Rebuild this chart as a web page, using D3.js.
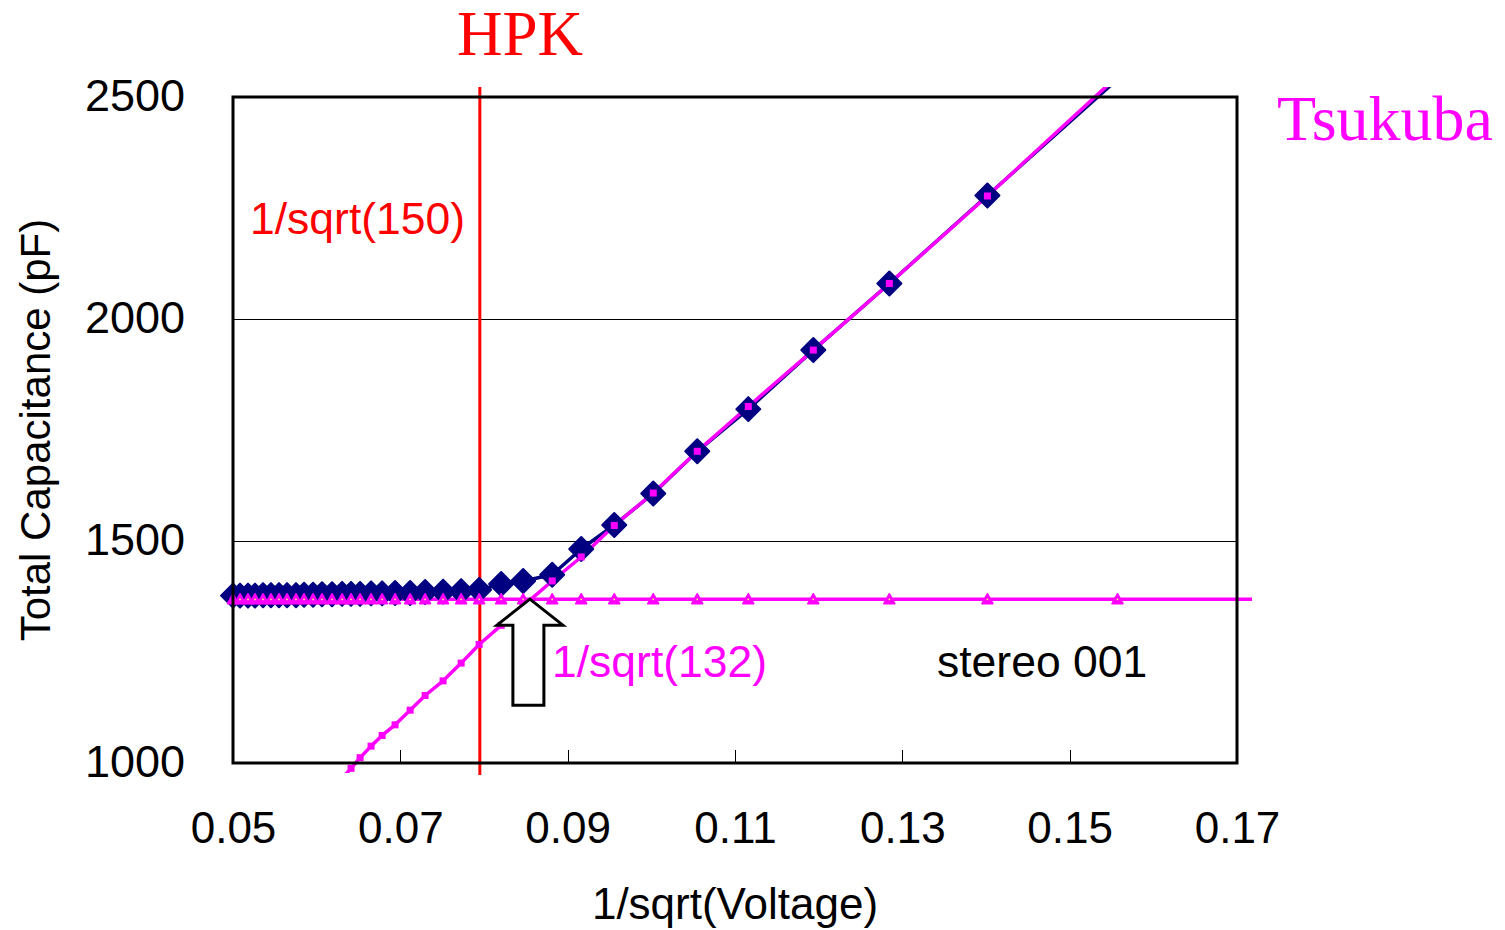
<!DOCTYPE html>
<html>
<head>
<meta charset="utf-8">
<script src="https://cdn.jsdelivr.net/npm/d3@7"></script>
<style>
  html, body { margin: 0; padding: 0; background: #fff; }
  svg { display: block; }
  text { font-family: "Liberation Sans", Arial, sans-serif; }
</style>
</head>
<body>
<svg id="chart" width="1505" height="930"></svg>
<script>
// ---- data ----
const xValues = [0.0500, 0.05084, 0.05179, 0.05263, 0.05359, 0.05454, 0.05550, 0.05646, 0.05753, 0.05849,
                 0.05957, 0.06064, 0.06184, 0.06304, 0.06411, 0.06519, 0.06650, 0.06782, 0.06937, 0.07117,
                 0.07296, 0.07511, 0.07727, 0.07942, 0.08205, 0.08468, 0.08815, 0.09162, 0.09557, 0.10023,
                 0.10549, 0.11159, 0.11936, 0.12845, 0.14017, 0.15572];
const hpkValues = [1377, 1377, 1377, 1377, 1378, 1378, 1378, 1378, 1378, 1379,
                   1379, 1380, 1380, 1381, 1381, 1381, 1382, 1382, 1383, 1383,
                   1385, 1386, 1387, 1390, 1403, 1410, 1424, 1482, 1536, 1607,
                   1702, 1797, 1930, 2080, 2278, 2540];
const tsukubaRise = [null, null, null, null, null, null, null, null, null, null,
                     null, null, 944, 966, 988, 1012, 1038, 1062, 1086, 1119,
                     1152, 1185, 1225, 1267, 1310, 1354, 1410, 1464, 1535, 1608,
                     1702, 1803, 1930, 2080, 2277, 2547];
const tsukubaFlat = [1369, 1369, 1369, 1369, 1369, 1369, 1369, 1369, 1369, 1369,
                     1369, 1369, 1369, 1369, 1369, 1369, 1369, 1369, 1369, 1369,
                     1369, 1369, 1369, 1369, 1369, 1369, 1369, 1369, 1369, 1369,
                     1369, 1369, 1369, 1369, 1369, 1369];
const plateauLevel = 1369;
const hpkMarkerX = 0.0795;
const crossingX = 0.08704;
const xTicks = [0.05, 0.07, 0.09, 0.11, 0.13, 0.15, 0.17];
const xTickLabels = ["0.05", "0.07", "0.09", "0.11", "0.13", "0.15", "0.17"];
const yTicks = [1000, 1500, 2000, 2500];
const yGrid = [1500, 2000];

// ---- layout ----
const svg = d3.select("#chart");
const L = 233, R = 1237, T = 97, B = 763;
const x = d3.scaleLinear().domain([0.05, 0.17]).range([L, R]);
const y = d3.scaleLinear().domain([1000, 2500]).range([B, T]);
const NAVY = "#000080", MAG = "#ff00ff", RED = "#ff0000";

const defs = svg.append("defs");
defs.append("clipPath").attr("id", "clip")
  .append("rect").attr("x", L - 10).attr("y", T - 10).attr("width", R - L + 20).attr("height", B - T + 20);

// gridlines
svg.append("g").selectAll("line").data(yGrid).join("line")
  .attr("x1", L).attr("x2", R)
  .attr("y1", d => Math.round(y(d)) + 0.5).attr("y2", d => Math.round(y(d)) + 0.5)
  .attr("stroke", "#000").attr("stroke-width", 1).attr("shape-rendering", "crispEdges");

// x axis (ticks inside)
const xAxis = d3.axisBottom(x).tickValues(xTicks).tickFormat((d, i) => xTickLabels[i]).tickSize(-13).tickPadding(0);
const gx = svg.append("g").attr("transform", `translate(0,${B})`).call(xAxis);
gx.select(".domain").remove();
gx.selectAll(".tick line").attr("stroke", "#000").attr("stroke-width", 1).attr("shape-rendering", "crispEdges");
gx.selectAll(".tick text").attr("y", 80).attr("dy", 0)
  .attr("font-size", 44).attr("fill", "#000")
  .style("font-family", "'Liberation Sans', Arial, sans-serif");

// y axis
const yAxis = d3.axisLeft(y).tickValues(yTicks).tickFormat(d3.format("d")).tickSize(0).tickPadding(0);
const gy = svg.append("g").attr("transform", `translate(${L},0)`).call(yAxis);
gy.select(".domain").remove();
gy.selectAll(".tick text").attr("x", -48).attr("dy", "0.3em")
  .attr("font-size", 45).attr("fill", "#000")
  .style("font-family", "'Liberation Sans', Arial, sans-serif");

// series lines
const pts = (vals) => xValues.map((xv, i) => ({x: xv, y: vals[i]}));
const line = d3.line().defined(d => d.y != null).x(d => x(d.x)).y(d => y(d.y));
const lines = svg.append("g").attr("clip-path", "url(#clip)");
lines.append("path").datum(pts(hpkValues)).attr("d", line)
  .attr("fill", "none").attr("stroke", NAVY).attr("stroke-width", 3.5).attr("stroke-linejoin", "round");
lines.append("path").datum(pts(tsukubaRise)).attr("d", line)
  .attr("fill", "none").attr("stroke", MAG).attr("stroke-width", 3.5).attr("stroke-linejoin", "round");

// horizontal plateau line
svg.append("line")
  .attr("x1", L - 8).attr("x2", R + 15)
  .attr("y1", y(plateauLevel)).attr("y2", y(plateauLevel))
  .attr("stroke", MAG).attr("stroke-width", 3.5);

// red vertical line
svg.append("line")
  .attr("x1", x(hpkMarkerX)).attr("x2", x(hpkMarkerX))
  .attr("y1", T - 10).attr("y2", B + 12)
  .attr("stroke", RED).attr("stroke-width", 3);

// diamonds
const ds = 12;
svg.append("g").selectAll("path").data(pts(hpkValues).filter(d => y(d.y) > T - 5)).join("path")
  .attr("d", d => {
    const cx = x(d.x), cy = y(d.y);
    return `M${cx},${cy - ds}L${cx + ds},${cy}L${cx},${cy + ds}L${cx - ds},${cy}Z`;
  })
  .attr("fill", NAVY).attr("stroke", NAVY).attr("stroke-width", 2).attr("stroke-linejoin", "round");

// triangles (flat series)
svg.append("g").selectAll("g").data(pts(tsukubaFlat)).join("g")
  .each(function(d) {
    const cx = x(d.x), cy = y(d.y);
    const g = d3.select(this);
    g.append("path")
      .attr("d", `M${cx},${cy - 5.5}L${cx + 5.5},${cy + 4.5}L${cx - 5.5},${cy + 4.5}Z`)
      .attr("fill", MAG).attr("stroke", MAG).attr("stroke-width", 1.5).attr("stroke-linejoin", "round");
    g.append("rect").attr("x", cx - 0.75).attr("y", cy - 0.5).attr("width", 1.5).attr("height", 1.5)
      .attr("fill", "#ffff66");
  });

// squares (rising series)
svg.append("g").selectAll("rect").data(pts(tsukubaRise).filter(d => d.y != null && d.y >= 985 && d.y <= 2500)).join("rect")
  .attr("x", d => x(d.x) - 3.5).attr("y", d => y(d.y) - 3.5)
  .attr("width", 7).attr("height", 7)
  .attr("fill", MAG);

// arrow
const ax = x(crossingX) - 13;  // tip at intersection
const tipY = y(plateauLevel);
svg.append("path")
  .attr("d", `M${ax},${tipY} L${ax + 33},${tipY + 26} L${ax + 14},${tipY + 26} L${ax + 14},${tipY + 106} L${ax - 17},${tipY + 106} L${ax - 17},${tipY + 26} L${ax - 33},${tipY + 26} Z`)
  .attr("fill", "#fff").attr("stroke", "#000").attr("stroke-width", 3).attr("stroke-linejoin", "miter");

// plot border
svg.append("rect").attr("x", L).attr("y", T).attr("width", R - L).attr("height", B - T)
  .attr("fill", "none").attr("stroke", "#000").attr("stroke-width", 3);

// titles
svg.append("text").attr("x", 735).attr("y", 919).attr("text-anchor", "middle")
  .attr("font-size", 44).text("1/sqrt(Voltage)");
svg.append("text").attr("transform", "translate(50,430) rotate(-90)").attr("text-anchor", "middle")
  .attr("font-size", 42).text("Total Capacitance (pF)");

// annotations
svg.append("text").attr("x", 457).attr("y", 55).attr("fill", RED)
  .style("font-family", "'Liberation Serif', 'Times New Roman', serif").attr("font-size", 63).text("HPK");
svg.append("text").attr("x", 1277).attr("y", 140).attr("fill", MAG)
  .style("font-family", "'Liberation Serif', 'Times New Roman', serif").attr("font-size", 64).text("Tsukuba");
svg.append("text").attr("x", 250).attr("y", 234).attr("fill", RED).attr("font-size", 44.5).text("1/sqrt(150)");
svg.append("text").attr("x", 552).attr("y", 677).attr("fill", MAG).attr("font-size", 44.5).text("1/sqrt(132)");
svg.append("text").attr("x", 937).attr("y", 677).attr("fill", "#000").attr("font-size", 44.5).text("stereo 001");
</script>
</body>
</html>
